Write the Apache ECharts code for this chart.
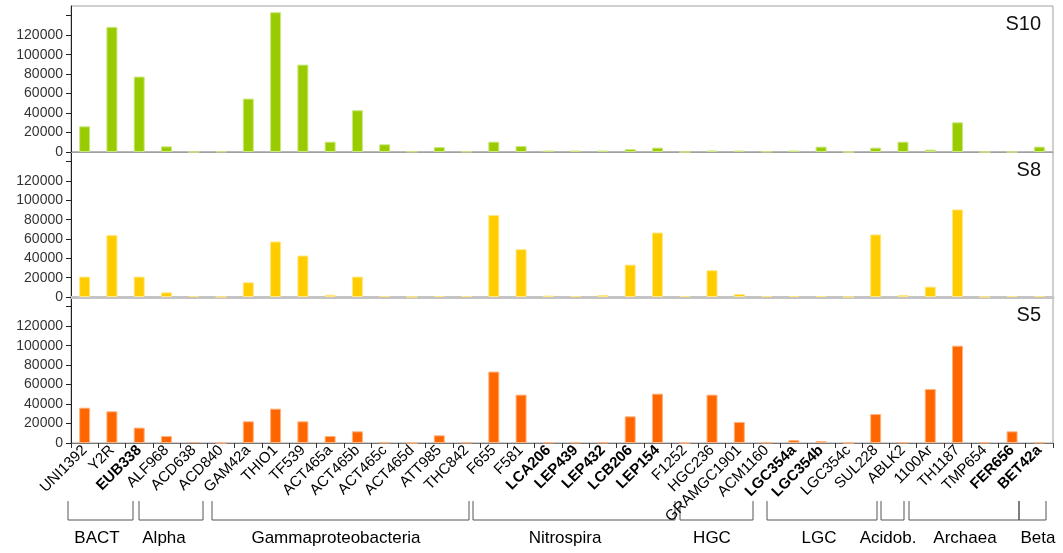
<!DOCTYPE html>
<html>
<head>
<meta charset="utf-8">
<script src="https://cdn.jsdelivr.net/npm/echarts@6/dist/echarts.min.js"></script>
<style>
html, body { margin: 0; padding: 0; background: #fff; }
#chart { width: 1063px; height: 553px; }
</style>
</head>
<body>
<div id="chart"></div>
<script>
// probe names (x axis)
var probes = ['UNI1392', 'Y2R', 'EUB338', 'ALF968', 'ACD638', 'ACD840', 'GAM42a', 'THIO1', 'TF539',
    'ACT465a', 'ACT465b', 'ACT465c', 'ACT465d', 'ATT985', 'THC842', 'F655', 'F581', 'LCA206',
    'LEP439', 'LEP432', 'LCB206', 'LEP154', 'F1252', 'HGC236', 'GRAMGC1901', 'ACM1160',
    'LGC354a', 'LGC354b', 'LGC354c', 'SUL228', 'ABLK2', '1100Ar', 'TH1187', 'TMP654', 'FER656', 'BET42a'];

// labels printed darker in the original
var boldProbes = ['EUB338', 'LCA206', 'LEP439', 'LEP432', 'LCB206', 'LEP154', 'LGC354a', 'LGC354b', 'FER656', 'BET42a'];

// sample values
var s10 = [26400, 128600, 77500, 5800, 0, 500, 54900, 143600, 89800,
    10600, 42900, 7900, 500, 5100, 500, 10600, 6200, 1500,
    1500, 1500, 3000, 4500, 0, 1500, 1500, 500,
    1500, 5500, 0, 4500, 10600, 2400, 30500, 0, 0, 5500];
var s8 = [21100, 64000, 21100, 4800, 1000, 0, 15200, 57400, 42900,
    2200, 21100, 1000, 0, 1000, 1000, 84700, 49400, 1500,
    1000, 2000, 33500, 66700, 1000, 27700, 3100, 1000,
    1000, 1000, 0, 64700, 2000, 10700, 90600, 0, 1000, 1000];
var s5 = [36300, 32600, 15800, 7200, 1000, 0, 22300, 35300, 22300,
    7200, 12000, 500, 0, 7900, 500, 73400, 49700, 500,
    500, 500, 27400, 50700, 0, 49700, 21600, 500,
    3000, 2000, 0, 29800, 500, 55500, 100000, 500, 12000, 500];

var panelNames = ['S10', 'S8', 'S5'];
var panelData = [s10, s8, s5];

// y axis ticks
var yMax = 150000;
var yStep = 20000;
var yLabelMax = 120000;

// probe groups shown under the axis
var groupNames = ['BACT', 'Alpha', 'Gammaproteobacteria', 'Nitrospira', 'HGC', 'LGC', 'Acidob.', 'Archaea', 'Beta'];

// layout only: bracket extents and label centres in pixels
var groupSpans = [[68, 133], [139, 203], [212, 469], [473, 675], [680, 753], [767, 877], [881, 904], [909, 1019], [1019, 1046]];
var groupLabelX = [97, 164, 336, 565, 712, 819, 888, 965, 1038];

var colors = ['#99CC00', '#FFCC00', '#FF6600'];
var edgeColors = ['#CCE680', '#FFE680', '#FFB380'];
var gridTops = [6, 152, 297];
var gridHeights = [146, 145, 146];

var font = 'Liberation Sans, Arial, sans-serif';

var my_chart = echarts.init(document.getElementById('chart'));

var grids = [], xAxes = [], yAxes = [], series = [], titles = [];
for (var i = 0; i < 3; i++) {
    var isLast = (i == 2);
    grids.push({
        left: 71,
        right: 10,
        top: gridTops[i],
        height: gridHeights[i],
        show: true,
        borderColor: '#A0A0A0',
        borderWidth: 1
    });
    xAxes.push({
        type: 'category',
        gridIndex: i,
        data: probes,
        axisLine: {
            show: true,
            lineStyle: {
                color: i == 1 ? '#C4C4C4' : (isLast ? '#777' : '#A0A0A0'),
                width: i == 1 ? 3 : 1
            }
        },
        axisTick: {
            show: isLast,
            length: 5,
            lineStyle: { color: '#333' }
        },
        axisLabel: {
            show: isLast,
            rotate: 45,
            interval: 0,
            margin: 5,
            fontFamily: font,
            fontSize: 15,
            color: '#000',
            formatter: function (v) {
                return boldProbes.indexOf(v) >= 0 ? '{b|' + v + '}' : v;
            },
            rich: {
                b: { fontFamily: font, fontSize: 15, fontWeight: 'bold', color: '#000' }
            }
        },
        splitLine: { show: false }
    });
    yAxes.push({
        type: 'value',
        gridIndex: i,
        min: 0,
        max: yMax,
        interval: yStep,
        axisLine: { show: true, lineStyle: { color: '#222', width: 1 } },
        axisTick: { show: true, length: 5, lineStyle: { color: '#222' } },
        axisLabel: {
            fontFamily: font,
            fontSize: 14,
            color: '#333',
            margin: 8,
            showMaxLabel: false,
            formatter: function (v) {
                return v > yLabelMax ? '' : String(v);
            }
        },
        splitLine: { show: false }
    });
    series.push({
        name: panelNames[i],
        type: 'bar',
        xAxisIndex: i,
        yAxisIndex: i,
        data: panelData[i],
        barWidth: 11,
        itemStyle: {
            color: colors[i],
            borderColor: edgeColors[i],
            borderWidth: 1
        },
        silent: true
    });
    titles.push({
        text: panelNames[i],
        right: 17,
        top: gridTops[i] + 3,
        textStyle: { fontFamily: font, fontSize: 20, fontWeight: 'normal', color: '#111' }
    });
}

// brackets and group names
var graphics = [];
for (var g = 0; g < groupNames.length; g++) {
    var x1 = groupSpans[g][0], x2 = groupSpans[g][1];
    graphics.push({
        type: 'polyline',
        shape: { points: [[x1, 501], [x1, 520], [x2, 520], [x2, 501]] },
        style: { stroke: '#555', lineWidth: 1, fill: null }
    });
    graphics.push({
        type: 'text',
        x: groupLabelX[g],
        y: 538,
        style: {
            text: groupNames[g],
            font: '17px ' + font,
            fill: '#000',
            align: 'center',
            verticalAlign: 'middle'
        }
    });
}

var option = {
    backgroundColor: '#fff',
    animation: false,
    title: titles,
    grid: grids,
    xAxis: xAxes,
    yAxis: yAxes,
    series: series,
    graphic: graphics
};

my_chart.setOption(option);
</script>
</body>
</html>
